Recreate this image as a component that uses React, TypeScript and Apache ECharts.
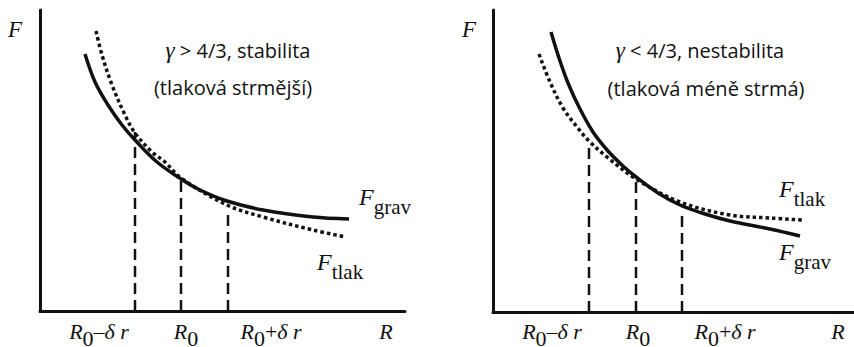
import React, { useEffect, useRef } from "react";
import * as echarts from "echarts";

// Left panel (gamma > 4/3): R and F in axis units (x 0..365, y 0..301)
const leftGravR = [45, 55, 68, 82, 95, 117, 141, 160, 187, 223, 273, 309];
const leftGravF = [257, 229, 206, 186, 171, 149, 132, 121, 110, 101, 94, 92];
const leftTlakR = [56, 62, 72, 85, 95, 112, 125, 141, 187, 223, 273, 306];
const leftTlakF = [280, 256, 226, 196, 178, 159, 149, 133, 106, 94, 81, 74];
const leftMarksR = [95, 141, 188];
const leftMarksF = [179, 131, 99];

// Right panel (gamma < 4/3): x 0..361, y 0..302
const rightGravR = [58, 66, 75, 86, 100, 115, 130, 143, 165, 187, 212, 237, 277, 307];
const rightGravF = [280, 254, 229, 205, 180, 161, 146, 135, 119, 107, 98, 91, 83, 76];
const rightTlakR = [46, 57, 70, 84, 95, 114, 143, 187, 237, 277, 309];
const rightTlakF = [258, 230, 204, 185, 172, 155, 133, 110, 97, 94, 92];
const rightMarksR = [96, 143, 189];
const rightMarksF = [165, 130, 100];

const tickLabels = ["R0–δr", "R0", "R0+δr", "R"];

const SERIF = "'Liberation Serif', 'Times New Roman', serif";
const SANS = "'Open Sans', 'Noto Sans', sans-serif";

const zip = (xs: number[], ys: number[]) => xs.map((x, i) => [x, ys[i]]);

const rLabelRich = {
  i: { fontFamily: SERIF, fontStyle: "italic", fontSize: 22, lineHeight: 36, fill: "#111" },
  n: { fontFamily: SERIF, fontSize: 22, lineHeight: 36, fill: "#111" },
  s: { fontFamily: SERIF, fontSize: 22, lineHeight: 22, verticalAlign: "bottom", fill: "#111" },
};

const fLabelRich = {
  F: { fontFamily: SERIF, fontStyle: "italic", fontSize: 24, lineHeight: 40, fill: "#111" },
  s: { fontFamily: SERIF, fontSize: 21, lineHeight: 20, verticalAlign: "bottom", fill: "#111" },
};

function rText(label: string) {
  if (label === "R") return "{i|R}";
  if (label === "R0") return "{i|R}{s|0}";
  const op = label.includes("+") ? "+" : "–";
  return `{i|R}{s|0}{n|${op}}{i|δ r}`;
}

function fText(sub: string) {
  return `{F|F}{s|${sub}}`;
}

export default function App() {
  const ref = useRef<HTMLDivElement>(null);
  useEffect(() => {
    if (!ref.current) return;
    const chart = echarts.init(ref.current, null, { renderer: "svg" });
    const axisLine = { show: true, lineStyle: { color: "#111", width: 3 } };
    const hiddenAxis = {
      axisTick: { show: false },
      axisLabel: { show: false },
      splitLine: { show: false },
      axisLine,
    };
    const solid = { color: "#111", width: 3.5 };
    const dotted = { color: "#111", width: 3.5, type: [3.5, 3], cap: "butt" };
    const dashed = { color: "#111", width: 2.5, type: [11, 6] };

    const series: any[] = [];
    const addCurve = (idx: number, xs: number[], ys: number[], ls: any) =>
      series.push({
        type: "line",
        xAxisIndex: idx,
        yAxisIndex: idx,
        data: zip(xs, ys),
        smooth: 0.35,
        showSymbol: false,
        lineStyle: ls,
        silent: true,
      });
    addCurve(0, leftGravR, leftGravF, solid);
    addCurve(0, leftTlakR, leftTlakF, dotted);
    addCurve(1, rightGravR, rightGravF, solid);
    addCurve(1, rightTlakR, rightTlakF, dotted);
    const addDrop = (idx: number, r: number, f: number) =>
      series.push({
        type: "line",
        xAxisIndex: idx,
        yAxisIndex: idx,
        data: [
          [r, 0],
          [r, f],
        ],
        showSymbol: false,
        lineStyle: dashed,
        silent: true,
      });
    leftMarksR.forEach((r, i) => addDrop(0, r, leftMarksF[i]));
    rightMarksR.forEach((r, i) => addDrop(1, r, rightMarksF[i]));

    const leftLabelX = [99, 186, 271, 386];
    const rightLabelX = [552, 638, 725, 838];
    const texts: any[] = [];
    tickLabels.forEach((t, i) => {
      [leftLabelX[i], rightLabelX[i]].forEach((x) =>
        texts.push({
          type: "text",
          x,
          y: 331,
          style: { text: rText(t), rich: rLabelRich, align: "center", verticalAlign: "middle" },
        })
      );
    });
    const fAxis = (x: number) => ({
      type: "text",
      x,
      y: 29,
      style: {
        text: "F",
        fontFamily: SERIF,
        fontStyle: "italic",
        fontSize: 23,
        fill: "#111",
        align: "center",
        verticalAlign: "middle",
      },
    });
    texts.push(fAxis(15), fAxis(469));
    const fLab = (x: number, y: number, sub: string) => ({
      type: "text",
      x,
      y,
      style: { text: fText(sub), rich: fLabelRich, align: "left", verticalAlign: "middle" },
    });
    texts.push(fLab(359, 197, "grav"), fLab(317, 262, "tlak"), fLab(779, 189, "tlak"), fLab(779, 252, "grav"));
    const title = (x: number, y: number, text: string) => ({
      type: "text",
      x,
      y,
      style: {
        text,
        fontFamily: SANS,
        fontSize: 20,
        fill: "#111",
        align: "center",
        verticalAlign: "middle",
        rich: {
          g: { fontFamily: SERIF, fontStyle: "italic", fontSize: 23, fill: "#111" },
        },
      },
    });
    texts.push(
      title(238, 50, "{g|γ} > 4/3, stabilita"),
      title(233, 87, "(tlaková strmější)"),
      title(700, 50, "{g|γ} < 4/3, nestabilita"),
      title(706, 88, "(tlaková méně strmá)")
    );

    chart.setOption({
      animation: false,
      backgroundColor: "#fff",
      grid: [
        { left: 40, top: 10, width: 365, height: 301 },
        { left: 493, top: 10, width: 361, height: 302 },
      ],
      xAxis: [
        { type: "value", gridIndex: 0, min: 0, max: 365, ...hiddenAxis },
        { type: "value", gridIndex: 1, min: 0, max: 361, ...hiddenAxis },
      ],
      yAxis: [
        { type: "value", gridIndex: 0, min: 0, max: 301, ...hiddenAxis },
        { type: "value", gridIndex: 1, min: 0, max: 302, ...hiddenAxis },
      ],
      series,
      graphic: texts,
    });
    return () => chart.dispose();
  }, []);
  return (
    <div
      ref={ref}
      style={{ position: "absolute", left: 0, top: 0, width: 854, height: 347, background: "#fff" }}
    />
  );
}
